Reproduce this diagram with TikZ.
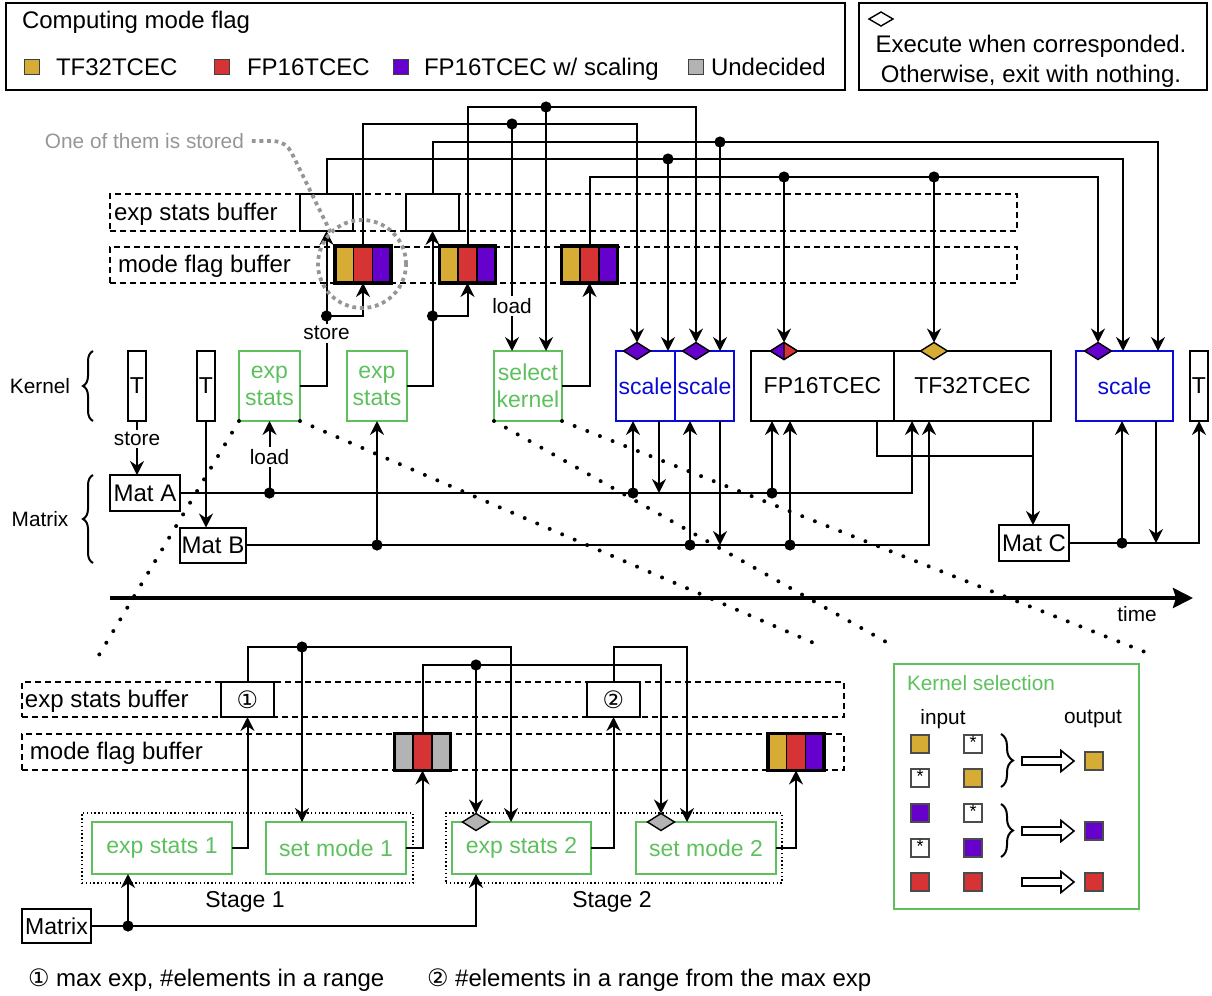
\documentclass[tikz,border=0pt]{standalone}
\usepackage{fontspec}
\setmainfont{Liberation Sans}
\newfontfamily\circfont{DejaVu Sans}
\usetikzlibrary{arrows.meta,shapes.geometric,decorations.pathreplacing,calc}
\definecolor{cgold}{RGB}{214,172,52}
\definecolor{cred}{RGB}{214,52,52}
\definecolor{cpurple}{RGB}{102,0,204}
\definecolor{cgray}{RGB}{179,179,179}
\definecolor{cgreen}{RGB}{93,192,93}
\definecolor{cblue}{RGB}{10,10,215}
\definecolor{cnote}{RGB}{150,150,150}
\newcommand{\fmain}{\fontsize{12}{14}\selectfont}
\newcommand{\fkern}{\fontsize{11.5}{13.5}\selectfont}
\newcommand{\fsmall}{\fontsize{10.4}{12}\selectfont}
\newcommand{\junc}[1]{\fill (#1) circle (2.8pt);}
\newcommand{\flagbox}[5]{%
  \node[flag] (#1) at (#2) {};
  \fill[#3] (#1.south west) rectangle ($(#1.north west)!1/3!(#1.north east)$);
  \fill[#4] ($(#1.south west)!1/3!(#1.south east)$) rectangle ($(#1.north west)!2/3!(#1.north east)$);
  \fill[#5] ($(#1.south west)!2/3!(#1.south east)$) rectangle (#1.north east);
  \draw[line width=0.8pt] ($(#1.south west)!1/3!(#1.south east)$) -- ($(#1.north west)!1/3!(#1.north east)$)
    ($(#1.south west)!2/3!(#1.south east)$) -- ($(#1.north west)!2/3!(#1.north east)$);
  \draw[line width=1.7pt] (#1.south west) rectangle (#1.north east);}
\newcommand{\holarrow}[1]{\draw[fill=white,line width=0.8pt] (#1) ++(-26pt,2pt) -- ++(19.5pt,0) -- ++(0,3.25pt) -- ++(6.5pt,-5.25pt) -- ++(-6.5pt,-5.25pt) -- ++(0,3.25pt) -- ++(-19.5pt,0) -- cycle;}

\begin{document}
\begin{tikzpicture}[x=0.5pt,y=-0.5pt,line width=1pt,
  >={Stealth[length=7pt,width=7pt,inset=2.3pt]},
  every node/.style={inner sep=0pt,outer sep=0pt},
  txt/.style={font=\fmain},
  kbox/.style={draw,minimum height=35pt,font=\fkern,align=center},
  gbox/.style={kbox,draw=cgreen,text=cgreen,line width=1pt},
  bbox/.style={kbox,draw=cblue,text=cblue,line width=1pt},
  wbox/.style={draw,fill=white,font=\fmain},
  dashrow/.style={draw,dash pattern=on 3pt off 2pt,line width=0.8pt},
  flag/.style={minimum width=28pt,minimum height=18.5pt},
  diam/.style={diamond,draw,line width=0.7pt,minimum width=13.5pt,minimum height=8.5pt},
  lbl/.style={fill=white,inner sep=1.2pt,font=\fsmall},
  guide/.style={line width=2pt,dash pattern=on 0pt off 6.8pt,line cap=round},
  graydot/.style={draw=cnote,line width=1.9pt,dash pattern=on 1.9pt off 1.9pt},
  stagebox/.style={draw,line width=0.8pt,dash pattern=on 0.7pt off 1.2pt,minimum height=35pt},
  sq/.style={draw=black!70,line width=0.7pt,minimum size=9pt},
  swatch/.style={draw=black!75,line width=0.7pt,minimum size=7.5pt}]
\useasboundingbox (0,0) rectangle (1212,996);

\node[draw,minimum width=419.5pt,minimum height=43.5pt] (leg) at (425.5,46.5) {};
\node[txt,anchor=west] (legt) at (22,22) {Computing mode flag};
\node[swatch,fill=cgold] (swA) at (32,67) {};
\node[txt,anchor=base west] (legA) at (56,75) {TF32TCEC};
\node[swatch,fill=cred] (swB) at (222,67) {};
\node[txt,anchor=base west] (legB) at (247,75) {FP16TCEC};
\node[swatch,fill=cpurple] (swC) at (401,67) {};
\node[txt,anchor=base west] (legC) at (424,75) {FP16TCEC w/ scaling};
\node[swatch,fill=cgray] (swD) at (696,67) {};
\node[txt,anchor=base west] (legD) at (711,75) {Undecided};
\node[draw,minimum width=174pt,minimum height=43.5pt] (leg2) at (1033,46.5) {};
\node[diam,minimum width=12pt,minimum height=7pt,fill=white] (legd) at (881,19) {};
\node[txt] (legE) at (1031,46) {Execute when corresponded.};
\node[txt] (legF) at (1031,76) {Otherwise, exit with nothing.};

\node[font=\fsmall,text=cnote,anchor=west] (stored) at (45,141) {One of them is stored};
\node[dashrow,minimum width=453.5pt,minimum height=18.5pt] (esrow) at (563.5,212.5) {};
\node[dashrow,minimum width=453.5pt,minimum height=18pt] (mfrow) at (563.5,265) {};
\node[txt,anchor=west] (esrowl) at (114,214) {exp stats buffer};
\node[txt,anchor=west] (mfrowl) at (118,266) {mode flag buffer};
\node[wbox,minimum width=26.5pt,minimum height=18.5pt] (esb1) at (326.5,212.5) {};
\node[wbox,minimum width=26.5pt,minimum height=18.5pt] (esb2) at (432.5,212.5) {};
\flagbox{mfb1}{363,264.5}{cgold}{cred}{cpurple}
\flagbox{mfb2}{467.5,264.5}{cgold}{cred}{cpurple}
\flagbox{mfb3}{589.5,264.5}{cgold}{cred}{cpurple}

\node[font=\fsmall] (kl) at (40,386) {Kernel};
\node[font=\fsmall] (ml) at (40,519) {Matrix};
\draw[decorate,decoration={brace,amplitude=5pt}] (93,421) -- (93,351);
\draw[decorate,decoration={brace,amplitude=5pt}] (93,563) -- (93,475);
\node[kbox,minimum width=9pt] (T1) at (137,386) {T};
\node[kbox,minimum width=9pt] (T2) at (206,386) {T};
\node[gbox,minimum width=30.5pt] (es1) at (269.5,386) {exp\\stats};
\node[gbox,minimum width=30pt] (es2) at (377,386) {exp\\stats};
\node[gbox,minimum width=34pt] (sk) at (528,386) {select\\kernel};
\node[bbox,minimum width=29.5pt] (scA) at (645.5,386) {scale};
\node[bbox,minimum width=29.5pt] (scB) at (704.5,386) {scale};
\node[kbox,minimum width=71.5pt] (fp16) at (822.5,386) {FP16TCEC};
\node[kbox,minimum width=78.5pt] (tf32) at (972.5,386) {TF32TCEC};
\node[bbox,minimum width=48.5pt] (scC) at (1124.5,386) {scale};
\node[kbox,minimum width=9pt] (T3) at (1199,386) {T};
\node[wbox,minimum width=35pt,minimum height=18pt] (matA) at (145,493) {Mat A};
\node[wbox,minimum width=33pt,minimum height=17.5pt] (matB) at (213,545) {Mat B};
\node[wbox,minimum width=35pt,minimum height=18pt] (matC) at (1034,543) {Mat C};

\node[diam,fill=cpurple] (dA) at ([xshift=10.5pt]scA.north west) {};
\node[diam,fill=cpurple] (dB) at ([xshift=10.5pt]scB.north west) {};
\node[diam] (dFP) at ([xshift=16.5pt]fp16.north west) {};
\fill[cpurple] (dFP.west) -- (dFP.north) -- (dFP.south) -- cycle;
\fill[cred] (dFP.east) -- (dFP.north) -- (dFP.south) -- cycle;
\draw[line width=0.7pt] (dFP.west) -- (dFP.north) -- (dFP.east) -- (dFP.south) -- cycle (dFP.north) -- (dFP.south);
\node[diam,fill=cgold] (dTF) at ([xshift=20pt]tf32.north west) {};
\node[diam,fill=cpurple] (dC) at ([xshift=11pt]scC.north west) {};

\coordinate (scAt) at ([xshift=26pt]scA.north west);
\coordinate (scBt) at ([xshift=22.5pt]scB.north west);
\coordinate (scCt1) at ([xshift=23.5pt]scC.north west);
\coordinate (scCt2) at ([xshift=41pt]scC.north west);
\coordinate (skt1) at ([xshift=9pt]sk.north west);
\coordinate (skt2) at ([xshift=26pt]sk.north west);
\coordinate (scAu) at ([xshift=8.5pt]scA.south west);
\coordinate (scAd) at ([xshift=21.5pt]scA.south west);
\coordinate (scBu) at ([xshift=7.5pt]scB.south west);
\coordinate (scBd) at ([xshift=22.5pt]scB.south west);
\coordinate (fpu1) at ([xshift=10.5pt]fp16.south west);
\coordinate (fpu2) at ([xshift=19.5pt]fp16.south west);
\coordinate (fpo) at ([xshift=-8.5pt]fp16.south east);
\coordinate (tfu1) at ([xshift=9pt]tf32.south west);
\coordinate (tfu2) at ([xshift=17.5pt]tf32.south west);
\coordinate (tfo) at ([xshift=-9pt]tf32.south east);
\coordinate (mrg) at ([yshift=-17.5pt]tfo);
\coordinate (scCu) at ([xshift=23pt]scC.south west);
\coordinate (scCd) at ([xshift=40pt]scC.south west);
\coordinate (r1) at (0,107);
\coordinate (r2) at (0,124);
\coordinate (r3) at (0,142);
\coordinate (r4) at (0,159);
\coordinate (r5) at (0,177);
\coordinate (s1) at (esb1.south |- 0,316);
\coordinate (s2) at (esb2.south |- 0,316);

\draw[->] (mfb2.north) |- (dB.north |- r1) -- (dB.north);
\draw[->] (skt2 |- r1) -- (skt2);
\draw[->] (mfb1.north) |- (dA.north |- r2) -- (dA.north);
\draw[->] (skt1 |- r2) -- node[lbl,pos=0.8]{load} (skt1);
\draw[->] (esb2.north) |- (scCt2 |- r3) -- (scCt2);
\draw[->] (scBt |- r3) -- (scBt);
\draw[->] (esb1.north) |- (scCt1 |- r4) -- (scCt1);
\draw[->] (scAt |- r4) -- (scAt);
\draw[->] (mfb3.north) |- (dC.north |- r5) -- (dC.north);
\draw[->] (dFP.north |- r5) -- (dFP.north);
\draw[->] (dTF.north |- r5) -- (dTF.north);
\junc{skt2 |- r1}
\junc{skt1 |- r2}
\junc{scBt |- r3}
\junc{scAt |- r4}
\junc{dFP.north |- r5}
\junc{dTF.north |- r5}

\draw[->] (es1.east) -| node[lbl,pos=0.67]{store} (esb1.south);
\draw[->] (s1) -| (mfb1.south);
\draw[->] (es2.east) -| (esb2.south);
\draw[->] (s2) -| (mfb2.south);
\draw[->] (sk.east) -| (mfb3.south);
\junc{s1}
\junc{s2}

\draw[->] (T1.south) -- node[lbl,pos=0.33]{store} (T1.south |- matA.north);
\draw[->] (T2.south) -- (T2.south |- matB.north);
\draw[->] (matA.east) -| (tfu1);
\draw[->] (es1.south |- matA.east) -- node[lbl]{load} (es1.south);
\draw[->] (scAu |- matA.east) -- (scAu);
\draw[->] (scAd) -- (scAd |- matA.east);
\draw[->] (fpu1 |- matA.east) -- (fpu1);
\draw[->] (matB.east) -| (tfu2);
\draw[->] (es2.south |- matB.east) -- (es2.south);
\draw[->] (scBu |- matB.east) -- (scBu);
\draw[->] (scBd) -- (scBd |- matB.east);
\draw[->] (fpu2 |- matB.east) -- (fpu2);
\draw (fpo) |- (mrg);
\draw[->] (tfo) -- (tfo |- matC.north);
\draw[->] (matC.east) -| (T3.south);
\draw[->] (scCu |- matC.east) -- (scCu);
\draw[->] (scCd) -- (scCd |- matC.east);
\junc{es1.south |- matA.east}
\junc{scAu |- matA.east}
\junc{fpu1 |- matA.east}
\junc{es2.south |- matB.east}
\junc{scBu |- matB.east}
\junc{fpu2 |- matB.east}
\junc{scCu |- matC.east}

\coordinate (t0) at (110,598);
\coordinate (t1) at (1193,598);
\draw[line width=1.9pt,-{Stealth[length=10pt,width=10pt,inset=1.5pt]}] (t0) -- (t1);
\node[font=\fsmall] (tlab) at (1137,614) {time};

\coordinate (z1) at (93,665);
\coordinate (z2) at (823,647);
\coordinate (z3) at (895,647);
\coordinate (z4) at (1150,654);
\draw[guide] (es1.south west) -- (z1);
\draw[guide] (es1.south east) -- (z2);
\draw[guide] (sk.south west) -- (z3);
\draw[guide] (sk.south east) -- (z4);

\node[graydot,circle,minimum size=44pt] (circ) at (362,264) {};
\draw[graydot,rounded corners=6pt] ([xshift=4pt]stored.east) -- ++(17pt,0) -- (circ.north west);

\node[dashrow,minimum width=411pt,minimum height=17.5pt] (esrow2) at (433,699.5) {};
\node[dashrow,minimum width=411pt,minimum height=18pt] (mfrow2) at (433,752) {};
\node[txt,anchor=west] (esrowl2) at (25,701) {exp stats buffer};
\node[txt,anchor=west] (mfrowl2) at (30,753) {mode flag buffer};
\node[wbox,minimum width=26.5pt,minimum height=17.5pt] (st1buf) at (247.5,699.5) {\circfont ①};
\node[wbox,minimum width=26.5pt,minimum height=17.5pt] (st2buf) at (613.5,699.5) {\circfont ②};
\flagbox{lfb1}{422.5,752}{cgray}{cred}{cgray}
\flagbox{lfb2}{796,752}{cgold}{cred}{cpurple}
\node[stagebox,minimum width=165.5pt] (stg1) at (247.5,848) {};
\node[stagebox,minimum width=168pt] (stg2) at (614,848) {};
\node[gbox,minimum width=70pt,minimum height=26pt] (ex1) at (162,848) {exp stats 1};
\node[gbox,minimum width=70pt,minimum height=26pt] (sm1) at (336,848) {set mode 1};
\node[gbox,minimum width=69.5pt,minimum height=26pt] (ex2) at (521.5,848) {exp stats 2};
\node[gbox,minimum width=70pt,minimum height=26pt] (sm2) at (706,848) {set mode 2};
\node[diam,fill=cgray] (dex2) at ([xshift=12pt]ex2.north west) {};
\node[diam,fill=cgray] (dsm2) at ([xshift=12.5pt]sm2.north west) {};
\node[font=\fkern] (stl1) at (245,902) {Stage 1};
\node[font=\fkern] (stl2) at (612,902) {Stage 2};
\node[wbox,font=\fkern,minimum width=34.5pt,minimum height=17pt] (mtx) at (56.5,926) {Matrix};

\coordinate (sm1t) at ([xshift=18pt]sm1.north west);
\coordinate (ex2t) at ([xshift=29.5pt]ex2.north west);
\coordinate (sm2t) at ([xshift=25.5pt]sm2.north west);
\coordinate (ex1b) at ([xshift=18pt]ex1.south west);
\coordinate (ex2b) at ([xshift=12pt]ex2.south west);
\coordinate (lr1) at (0,647);
\coordinate (lr2) at (0,665);
\draw[->] (ex1.east) -| (st1buf.south);
\draw[->] (sm1.east) -| (lfb1.south);
\draw[->] (ex2.east) -| (st2buf.south);
\draw[->] (sm2.east) -| (lfb2.south);
\draw[->] (st1buf.north) |- (ex2t |- lr1) -- (ex2t);
\draw[->] (sm1t |- lr1) -- (sm1t);
\draw[->] (lfb1.north) |- (dsm2.north |- lr2) -- (dsm2.north);
\draw[->] (dex2.north |- lr2) -- (dex2.north);
\draw[->] (st2buf.north) |- (sm2t |- lr1) -- (sm2t);
\draw[->] (mtx.east) -| (ex2b);
\draw[->] (ex1b |- mtx.east) -- (ex1b);
\junc{sm1t |- lr1}
\junc{dex2.north |- lr2}
\junc{ex1b |- mtx.east}

\node[txt,anchor=west] (fn1) at (28,980) {{\circfont ①} max exp, \#elements in a range};
\node[txt,anchor=west] (fn2) at (427,980) {{\circfont ②} \#elements in a range from the max exp};

\node[draw=cgreen,line width=1pt,minimum width=122.5pt,minimum height=122.5pt] (ksel) at (1016.5,786.5) {};
\node[font=\fsmall,text=cgreen,anchor=west] (kselt) at (907,683) {Kernel selection};
\node[font=\fsmall] (inl) at (943,719) {input};
\node[font=\fsmall] (outl) at (1093,719) {output};
\node[sq,fill=cgold] (a1) at (920,744) {};
\node[sq,fill=white] (b1) at (973,744) {};
\node[sq,fill=white] (a2) at (920,778) {};
\node[sq,fill=cgold] (b2) at (973,778) {};
\node[sq,fill=cpurple] (a3) at (920,813) {};
\node[sq,fill=white] (b3) at (973,813) {};
\node[sq,fill=white] (a4) at (920,848) {};
\node[sq,fill=cpurple] (b4) at (973,848) {};
\node[sq,fill=cred] (a5) at (920,882) {};
\node[sq,fill=cred] (b5) at (973,882) {};
\node[sq,fill=cgold] (o1) at (1094,761) {};
\node[sq,fill=cpurple] (o2) at (1094,831) {};
\node[sq,fill=cred] (o3) at (1094,882) {};
\foreach \s in {b1,a2,b3,a4}
  \node[font=\fontsize{9}{9}\selectfont,anchor=north] at ([yshift=-0.5pt]\s.north) {*};
\draw[decorate,decoration={brace,amplitude=6pt}] (1001,734) -- (1001,787);
\draw[decorate,decoration={brace,amplitude=6pt}] (1001,804) -- (1001,857);
\holarrow{[xshift=-5.5pt]o1.west}
\holarrow{[xshift=-5.5pt]o2.west}
\holarrow{[xshift=-5.5pt]o3.west}
\end{tikzpicture}
\end{document}
